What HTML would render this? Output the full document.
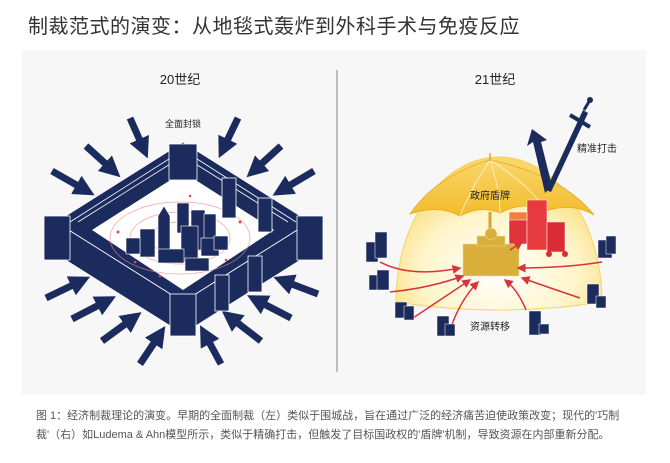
<!DOCTYPE html>
<html><head><meta charset="utf-8"><style>
html,body{margin:0;padding:0;background:#fff;width:670px;height:463px;overflow:hidden}
body{font-family:"Liberation Sans","Noto Sans CJK SC",sans-serif;position:relative}
.t{position:absolute;left:28px;top:10px;font-size:20px;color:#333;letter-spacing:0.5px}
.cap{position:absolute;left:36px;top:407px;font-size:11px;color:#555;line-height:19px;width:610px}
svg{position:absolute;left:0;top:0}
</style></head><body>
<div class="t">制裁范式的演变：从地毯式轰炸到外科手术与免疫反应</div>
<svg width="670" height="463" viewBox="0 0 670 463" font-family="Liberation Sans, Noto Sans CJK SC, sans-serif">
<defs>
<marker id="ah" markerWidth="3" markerHeight="3" refX="0.6" refY="1.5" orient="auto" markerUnits="strokeWidth"><path d="M0,0 L3,1.5 L0,3 Z" fill="#1b2b5e"/></marker>
<marker id="ar" markerWidth="6" markerHeight="6" refX="5" refY="3" orient="auto" markerUnits="strokeWidth"><path d="M0,0 L6,3 L0,6 Z" fill="#d8343c"/></marker>
<radialGradient id="dome" cx="0.5" cy="0.75" r="0.65"><stop offset="0" stop-color="#ffffff"/><stop offset="0.6" stop-color="#fff4c8"/><stop offset="1" stop-color="#f8d768"/></radialGradient>
<linearGradient id="umb" x1="0" y1="0" x2="0" y2="1"><stop offset="0" stop-color="#f9d76a"/><stop offset="1" stop-color="#f2bb2c"/></linearGradient>
</defs>
<rect x="22" y="50" width="624" height="345" fill="#f7f7f7"/>
<line x1="337" y1="70" x2="337" y2="372" stroke="#999" stroke-width="1.2"/>
<text x="180" y="84" font-size="13" text-anchor="middle" fill="#222">20世纪</text>
<text x="495" y="84" font-size="13" text-anchor="middle" fill="#222">21世纪</text>
<text x="183" y="127" font-size="9" text-anchor="middle" fill="#222">全面封锁</text>

<g stroke="#1b2b5e" stroke-width="7" marker-end="url(#ah)" fill="none">
<line x1="130" y1="118" x2="141" y2="143"/>
<line x1="86" y1="146" x2="108" y2="166"/>
<line x1="52" y1="171" x2="80" y2="187"/>
<line x1="238" y1="118" x2="226" y2="143"/>
<line x1="281" y1="146" x2="259" y2="166"/>
<line x1="314" y1="171" x2="287" y2="187"/>
<line x1="46" y1="298" x2="75" y2="284"/>
<line x1="72" y1="319" x2="101" y2="304"/>
<line x1="102" y1="341" x2="128" y2="322"/>
<line x1="140" y1="364" x2="156" y2="340"/>
<line x1="318" y1="294" x2="289" y2="283"/>
<line x1="291" y1="318" x2="262" y2="303"/>
<line x1="261" y1="341" x2="235" y2="321"/>
<line x1="221" y1="364" x2="208" y2="340"/>
</g>

<g fill="#1b2b5e" stroke="#fff" stroke-width="0.8">
<polygon points="183,142 310,222 183,302 56,222"/>
</g>
<polygon points="92,230 183,172 274,230 183,290" fill="#fff"/>
<g stroke="#fff" stroke-width="0.8" fill="none">
<polyline points="70,222 183,150 296,222"/>
<polyline points="78,222 183,156 288,222"/>
</g>
<g fill="none" stroke="#f08a8a" stroke-width="0.7" opacity="0.8">
<ellipse cx="180" cy="238" rx="30" ry="16"/>
<ellipse cx="180" cy="238" rx="50" ry="26"/>
<ellipse cx="180" cy="238" rx="70" ry="36"/>
</g>
<g fill="#e04a4a"><circle cx="118" cy="232" r="1.5"/><circle cx="240" cy="222" r="1.5"/><circle cx="135" cy="262" r="1.3"/><circle cx="226" cy="260" r="1.3"/><circle cx="190" cy="196" r="1.3"/><circle cx="160" cy="276" r="1.3"/></g>
<g fill="#1b2b5e" stroke="#fff" stroke-width="0.6">
<rect x="177" y="203" width="12" height="30"/>
<rect x="191" y="210" width="14" height="40"/>
<rect x="204" y="214" width="12" height="30"/>
<polygon points="158,216 164,206 170,216 170,250 158,250"/>
<rect x="140" y="229" width="15" height="28"/>
<rect x="181" y="226" width="17" height="36"/>
<rect x="126" y="238" width="14" height="16"/>
<rect x="158" y="249" width="26" height="14"/>
<rect x="185" y="258" width="24" height="13"/>
<rect x="201" y="238" width="18" height="18"/>
<rect x="214" y="236" width="14" height="14"/>
</g>
<g fill="#1b2b5e" stroke="#fff" stroke-width="0.8">
<polygon points="56,222 183,302 183,334 56,254"/>
<polygon points="310,222 183,302 183,334 310,254"/>
<rect x="222" y="178" width="14" height="40"/>
<rect x="258" y="198" width="14" height="34"/>
<rect x="248" y="256" width="14" height="36"/>
<rect x="215" y="275" width="14" height="36"/>
<rect x="169" y="144" width="28" height="36"/>
<rect x="44" y="216" width="26" height="44"/>
<rect x="297" y="216" width="26" height="44"/>
<rect x="170" y="294" width="26" height="42"/>
</g>

<path d="M396,302 A103,145 0 0 1 602,302 Q500,318 396,302 Z" fill="url(#dome)" stroke="#f4d36b" stroke-width="1"/>
<path d="M490,160 Q436,176 410,214 Q438,204 460,216 Q480,205 500,213 Q525,200 546,211 Q572,202 594,215 Q562,175 490,160 Z" fill="url(#umb)" stroke="#e8a820" stroke-width="0.8"/>
<g stroke="#fff6d0" stroke-width="0.8" fill="none"><path d="M490,160 Q470,190 460,216"/><path d="M490,160 Q500,190 500,213"/><path d="M490,160 Q530,185 546,211"/></g>
<line x1="490" y1="153" x2="490" y2="161" stroke="#e2a520" stroke-width="1.5"/>
<line x1="490" y1="212" x2="490" y2="240" stroke="#d4a62a" stroke-width="3"/>
<text x="490" y="199" font-size="10" text-anchor="middle" fill="#222">政府盾牌</text>
<polygon points="545,193 533,142 527,146 532,129 547,140 541,142 552,186" fill="#1b2b5e"/>
<polygon points="546,190 583,110 588,113 551,192" fill="#1b2b5e"/>
<line x1="570" y1="115" x2="590" y2="127" stroke="#1b2b5e" stroke-width="4"/>
<line x1="584" y1="110" x2="590" y2="100" stroke="#1b2b5e" stroke-width="3"/>
<circle cx="590" cy="100" r="3" fill="#1b2b5e"/>
<text x="577" y="152" font-size="10" fill="#222">精准打击</text>
<g stroke="#fff" stroke-width="0.5">
<rect x="509" y="212" width="18" height="32" fill="#e0323a"/>
<rect x="527" y="200" width="20" height="50" fill="#e63a3e"/>
<rect x="547" y="222" width="18" height="30" fill="#d92c34"/>
<rect x="509" y="212" width="18" height="8" fill="#f08040"/>
</g>
<circle cx="549" cy="254" r="3" fill="#d92c34"/><circle cx="565" cy="254" r="3" fill="#d92c34"/>
<g fill="#d9ae3a" stroke="#f6e2a0" stroke-width="0.5">
<rect x="463" y="244" width="56" height="32"/>
<rect x="477" y="236" width="28" height="10"/>
<circle cx="491" cy="234" r="6"/>
</g>
<g stroke="#d8343c" stroke-width="1.5" fill="none" marker-end="url(#ar)">
<path d="M380,262 Q410,278 460,268"/>
<path d="M390,292 Q430,288 463,276"/>
<path d="M410,320 Q440,300 470,280"/>
<path d="M450,330 Q460,300 478,282"/>
<path d="M526,310 Q518,290 505,280"/>
<path d="M602,262 Q565,268 518,268"/>
<path d="M580,298 Q550,288 522,278"/>
<path d="M510,250 L522,242"/>
</g>
<text x="490" y="330" font-size="10" text-anchor="middle" fill="#222">资源转移</text>
<g fill="#1b2b5e" stroke="#fff" stroke-width="0.5">
<rect x="366" y="242" width="12" height="20"/><rect x="375" y="232" width="12" height="26"/>
<rect x="369" y="275" width="10" height="15"/><rect x="377" y="270" width="12" height="20"/>
<rect x="395" y="302" width="12" height="16"/><rect x="404" y="306" width="10" height="14"/>
<rect x="437" y="316" width="12" height="20"/><rect x="445" y="324" width="10" height="12"/>
<rect x="529" y="311" width="12" height="24"/><rect x="539" y="324" width="10" height="10"/>
<rect x="587" y="284" width="12" height="20"/><rect x="596" y="296" width="10" height="12"/>
<rect x="598" y="240" width="14" height="18"/><rect x="606" y="236" width="10" height="18"/>
</g>
</svg>
<div class="cap">图 1：经济制裁理论的演变。早期的全面制裁（左）类似于围城战，旨在通过广泛的经济痛苦迫使政策改变；现代的'巧制裁'（右）如Ludema &amp; Ahn模型所示，类似于精确打击，但触发了目标国政权的'盾牌'机制，导致资源在内部重新分配。</div>
</body></html>
